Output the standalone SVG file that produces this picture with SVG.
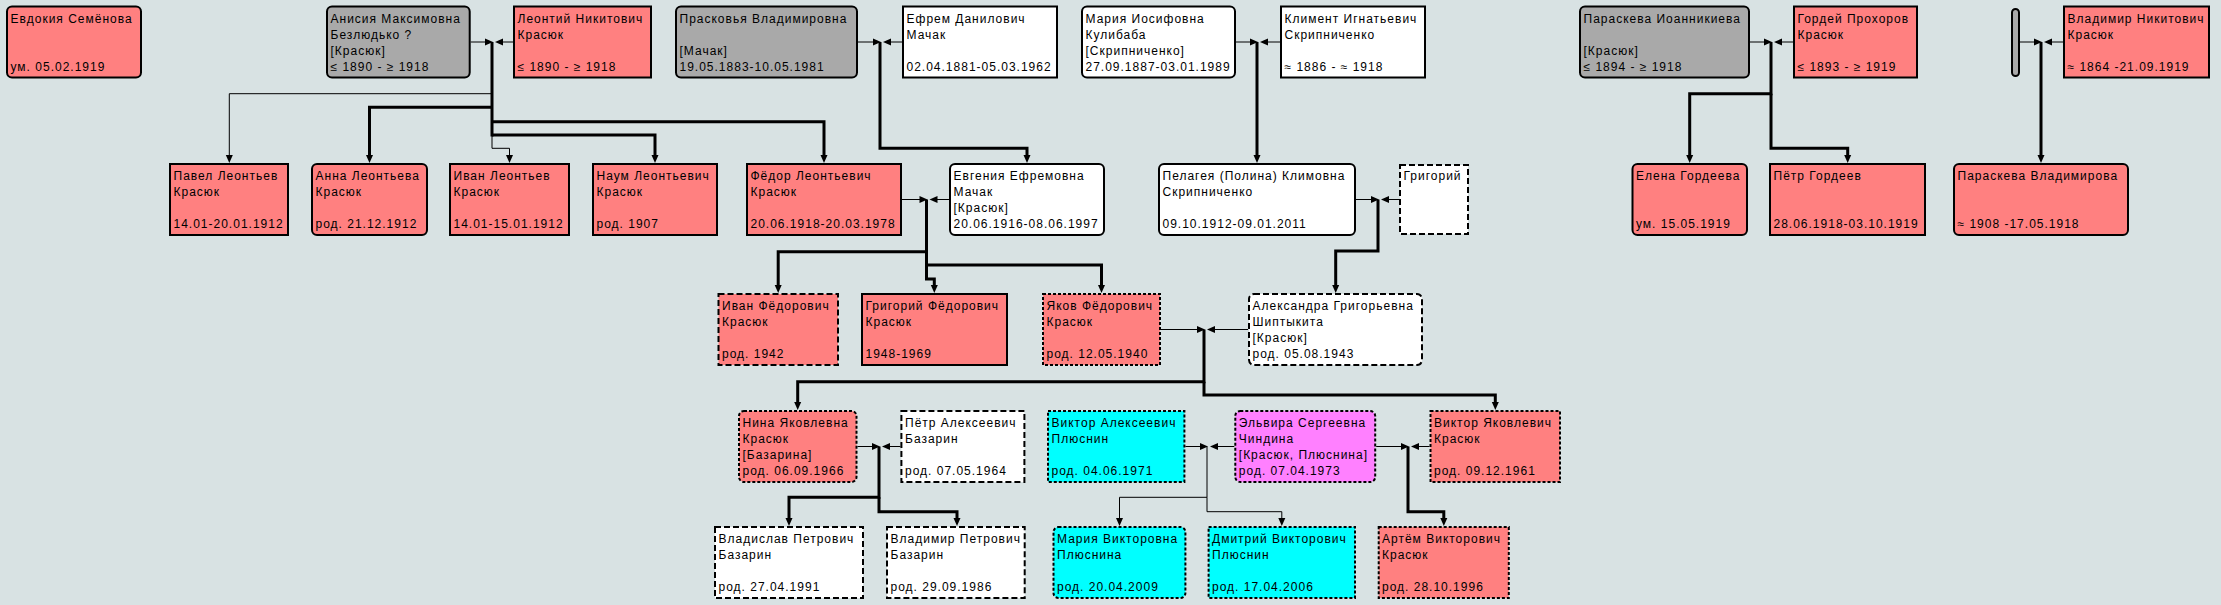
<svg xmlns="http://www.w3.org/2000/svg" width="2221" height="605" viewBox="0 0 2221 605">
<style>
.bg{fill:#D8E2E3}
.b{stroke:#000;stroke-width:2}
.pink{fill:#FF8080}.gray{fill:#A9A9A9}.white{fill:#FFFFFF}.cyan{fill:#00FFFF}.mag{fill:#FF80FF}
.dash{stroke-dasharray:6 3}.dot{stroke-dasharray:3 2}
text{font-family:"Liberation Sans",Arial,sans-serif;font-size:12px;letter-spacing:1px;fill:#000}
.thin{fill:none;stroke:#000;stroke-width:1;marker-end:url(#ah)}
.thick{fill:none;stroke:#000;stroke-width:3;marker-end:url(#ah)}
.sp{fill:none;stroke:#000;stroke-width:1;marker-end:url(#ah)}
.trunk{fill:none;stroke:#000;stroke-width:3}
.trunkt{fill:none;stroke:#000;stroke-width:1}
</style>
<defs>
<marker id="ah" markerUnits="userSpaceOnUse" markerWidth="8" markerHeight="7" refX="3" refY="3.5" orient="auto" overflow="visible">
<path d="M0,0 L8,3.5 L0,7 z" fill="#000"/>
</marker>
</defs>
<rect class="bg" x="0" y="0" width="2221" height="605"/>

<g id="connectors">
<!-- spouse lines -->
<path class="sp" d="M470.7,42 H488"/>
<path class="sp" d="M513,42 H500"/>
<path class="sp" d="M858,42 H876"/>
<path class="sp" d="M902,42 H888"/>
<path class="sp" d="M1236,42 H1253"/>
<path class="sp" d="M1280,42 H1265"/>
<path class="sp" d="M1750,42 H1767"/>
<path class="sp" d="M1793,42 H1779"/>
<path class="sp" d="M2020,42 H2037"/>
<path class="sp" d="M2063,42 H2049"/>
<path class="sp" d="M902,199.5 H922.5"/>
<path class="sp" d="M949,199.5 H934.5"/>
<path class="sp" d="M1356,199.5 H1374"/>
<path class="sp" d="M1399,199.5 H1386"/>
<path class="sp" d="M1161,329.5 H1200"/>
<path class="sp" d="M1248,329.5 H1212"/>
<path class="sp" d="M857.5,446.5 H875"/>
<path class="sp" d="M900.4,446.5 H887"/>
<path class="sp" d="M1185.4,446.5 H1203"/>
<path class="sp" d="M1234.3,446.5 H1215"/>
<path class="sp" d="M1376.2,446.5 H1404"/>
<path class="sp" d="M1429.5,446.5 H1416"/>
<!-- Anisia / Leontiy children -->
<path class="trunk" d="M492,42 V136.5"/>
<path class="thin" d="M492,93.7 H229.3 V158"/>
<path class="thick" d="M492,107.3 H369.5 V158"/>
<path class="thick" d="M492,121.7 H824 V158"/>
<path class="thick" d="M492,135 H655 V158"/>
<path class="thin" d="M492,135 V148.3 H509.5 V158"/>
<!-- Praskovya / Efrem -->
<path class="thick" d="M880,42 V148.3 H1027 V158"/>
<!-- Fyodor / Evgenia -->
<path class="thick" d="M926.5,199.5 V251.7 H778.2 V288"/>
<path class="thick" d="M926.5,251.7 V265 H1101.5 V288"/>
<path class="thick" d="M926.5,265 V279 H934.3 V288"/>
<!-- Mariya / Kliment -->
<path class="thick" d="M1257,42 V158"/>
<!-- Pelageya / Grigoriy -->
<path class="thick" d="M1378,199.5 V251 H1335.7 V288"/>
<!-- Paraskeva / Gordey -->
<path class="thick" d="M1771,42 V93.7 H1689.7 V158"/>
<path class="thick" d="M1771,93.7 V148.3 H1847.7 V158"/>
<!-- Vladimir -->
<path class="thick" d="M2041,42 V158"/>
<!-- Yakov / Alexandra -->
<path class="thick" d="M1204,329.5 V381.7 H797.7 V405"/>
<path class="thick" d="M1204,381.7 V395 H1495.3 V405"/>
<!-- Nina / Pyotr -->
<path class="thick" d="M879,446.5 V497.3 H789 V521"/>
<path class="thick" d="M879,497.3 V511.7 H957 V521"/>
<!-- Viktor A / Elvira -->
<path class="thin" d="M1207,446.5 V497.3 H1119.5 V521"/>
<path class="thin" d="M1207,497.3 V511.7 H1281.8 V521"/>
<!-- Elvira / Viktor Y -->
<path class="thick" d="M1408,446.5 V511.7 H1443.8 V521"/>
</g>

<!-- Row 1 -->
<g id="n-evdokiya"><rect class="b pink" x="7" y="6.5" width="134" height="71" rx="5"/>
<text x="10.5" y="22.5">Евдокия Семёнова</text><text x="10.5" y="70.5">ум. 05.02.1919</text></g>
<g id="n-anisiya"><rect class="b gray" x="327" y="6.5" width="142.7" height="71" rx="5"/>
<text x="330.5" y="22.5">Анисия Максимовна</text><text x="330.5" y="38.5">Безлюдько ?</text><text x="330.5" y="54.5">[Красюк]</text><text x="330.5" y="70.5">≤ 1890 - ≥ 1918</text></g>
<g id="n-leontiy"><rect class="b pink" x="514" y="6.5" width="137" height="71"/>
<text x="517.5" y="22.5">Леонтий Никитович</text><text x="517.5" y="38.5">Красюк</text><text x="517.5" y="70.5">≤ 1890 - ≥ 1918</text></g>
<g id="n-praskovya"><rect class="b gray" x="676" y="6.5" width="181" height="71" rx="5"/>
<text x="679.5" y="22.5">Прасковья Владимировна</text><text x="679.5" y="54.5">[Мачак]</text><text x="679.5" y="70.5">19.05.1883-10.05.1981</text></g>
<g id="n-efrem"><rect class="b white" x="903" y="6.5" width="154" height="71"/>
<text x="906.5" y="22.5">Ефрем Данилович</text><text x="906.5" y="38.5">Мачак</text><text x="906.5" y="70.5">02.04.1881-05.03.1962</text></g>
<g id="n-mariya"><rect class="b white" x="1082" y="6.5" width="153" height="71" rx="5"/>
<text x="1085.5" y="22.5">Мария Иосифовна</text><text x="1085.5" y="38.5">Кулибаба</text><text x="1085.5" y="54.5">[Скрипниченко]</text><text x="1085.5" y="70.5">27.09.1887-03.01.1989</text></g>
<g id="n-kliment"><rect class="b white" x="1281" y="6.5" width="144" height="71"/>
<text x="1284.5" y="22.5">Климент Игнатьевич</text><text x="1284.5" y="38.5">Скрипниченко</text><text x="1284.5" y="70.5">≈ 1886 - ≈ 1918</text></g>
<g id="n-paraskeva-i"><rect class="b gray" x="1580" y="6.5" width="169" height="71" rx="5"/>
<text x="1583.5" y="22.5">Параскева Иоанникиева</text><text x="1583.5" y="54.5">[Красюк]</text><text x="1583.5" y="70.5">≤ 1894 - ≥ 1918</text></g>
<g id="n-gordey"><rect class="b pink" x="1794" y="6.5" width="123" height="71"/>
<text x="1797.5" y="22.5">Гордей Прохоров</text><text x="1797.5" y="38.5">Красюк</text><text x="1797.5" y="70.5">≤ 1893 - ≥ 1919</text></g>
<g id="n-unknown"><rect class="b gray" x="2012" y="9" width="7" height="67" rx="3.5"/></g>
<g id="n-vladimir"><rect class="b pink" x="2064" y="6.5" width="145" height="71"/>
<text x="2067.5" y="22.5">Владимир Никитович</text><text x="2067.5" y="38.5">Красюк</text><text x="2067.5" y="70.5">≈ 1864 -21.09.1919</text></g>

<!-- Row 2 -->
<g id="n-pavel"><rect class="b pink" x="170" y="164" width="118" height="71"/>
<text x="173.5" y="180">Павел Леонтьев</text><text x="173.5" y="196">Красюк</text><text x="173.5" y="228">14.01-20.01.1912</text></g>
<g id="n-anna"><rect class="b pink" x="312" y="164" width="115" height="71" rx="5"/>
<text x="315.5" y="180">Анна Леонтьева</text><text x="315.5" y="196">Красюк</text><text x="315.5" y="228">род. 21.12.1912</text></g>
<g id="n-ivan-l"><rect class="b pink" x="450" y="164" width="119" height="71"/>
<text x="453.5" y="180">Иван Леонтьев</text><text x="453.5" y="196">Красюк</text><text x="453.5" y="228">14.01-15.01.1912</text></g>
<g id="n-naum"><rect class="b pink" x="593" y="164" width="124" height="71"/>
<text x="596.5" y="180">Наум Леонтьевич</text><text x="596.5" y="196">Красюк</text><text x="596.5" y="228">род. 1907</text></g>
<g id="n-fyodor"><rect class="b pink" x="747" y="164" width="154" height="71"/>
<text x="750.5" y="180">Фёдор Леонтьевич</text><text x="750.5" y="196">Красюк</text><text x="750.5" y="228">20.06.1918-20.03.1978</text></g>
<g id="n-evgenia"><rect class="b white" x="950" y="164" width="154" height="71" rx="5"/>
<text x="953.5" y="180">Евгения Ефремовна</text><text x="953.5" y="196">Мачак</text><text x="953.5" y="212">[Красюк]</text><text x="953.5" y="228">20.06.1916-08.06.1997</text></g>
<g id="n-pelageya"><rect class="b white" x="1159" y="164" width="196" height="71" rx="5"/>
<text x="1162.5" y="180">Пелагея (Полина) Климовна</text><text x="1162.5" y="196">Скрипниченко</text><text x="1162.5" y="228">09.10.1912-09.01.2011</text></g>
<g id="n-grigoriy"><rect class="b white dash" x="1400" y="165" width="68" height="69"/>
<text x="1403.5" y="180">Григорий</text></g>
<g id="n-elena"><rect class="b pink" x="1632.5" y="164" width="114.5" height="71" rx="5"/>
<text x="1636" y="180">Елена Гордеева</text><text x="1636" y="228">ум. 15.05.1919</text></g>
<g id="n-pyotr-g"><rect class="b pink" x="1770" y="164" width="155" height="71"/>
<text x="1773.5" y="180">Пётр Гордеев</text><text x="1773.5" y="228">28.06.1918-03.10.1919</text></g>
<g id="n-paraskeva-v"><rect class="b pink" x="1954" y="164" width="174" height="71" rx="5"/>
<text x="1957.5" y="180">Параскева Владимирова</text><text x="1957.5" y="228">≈ 1908 -17.05.1918</text></g>

<!-- Row 3 -->
<g id="n-ivan-f"><rect class="b pink dash" x="718.5" y="294" width="119.5" height="71"/>
<text x="722" y="310">Иван Фёдорович</text><text x="722" y="326">Красюк</text><text x="722" y="358">род. 1942</text></g>
<g id="n-grigoriy-f"><rect class="b pink" x="862" y="294" width="145" height="71"/>
<text x="865.5" y="310">Григорий Фёдорович</text><text x="865.5" y="326">Красюк</text><text x="865.5" y="358">1948-1969</text></g>
<g id="n-yakov"><rect class="b pink dot" x="1043" y="294" width="117" height="71"/>
<text x="1046.5" y="310">Яков Фёдорович</text><text x="1046.5" y="326">Красюк</text><text x="1046.5" y="358">род. 12.05.1940</text></g>
<g id="n-alexandra"><rect class="b white dash" x="1249" y="294" width="173" height="71" rx="5"/>
<text x="1252.5" y="310">Александра Григорьевна</text><text x="1252.5" y="326">Шиптыкита</text><text x="1252.5" y="342">[Красюк]</text><text x="1252.5" y="358">род. 05.08.1943</text></g>

<!-- Row 4 -->
<g id="n-nina"><rect class="b pink dot" x="739" y="411" width="117.5" height="71" rx="5"/>
<text x="742.5" y="427">Нина Яковлевна</text><text x="742.5" y="443">Красюк</text><text x="742.5" y="459">[Базарина]</text><text x="742.5" y="475">род. 06.09.1966</text></g>
<g id="n-pyotr-a"><rect class="b white dash" x="901.4" y="411" width="123" height="71"/>
<text x="905" y="427">Пётр Алексеевич</text><text x="905" y="443">Базарин</text><text x="905" y="475">род. 07.05.1964</text></g>
<g id="n-viktor-a"><rect class="b cyan dot" x="1048" y="411" width="136.4" height="71"/>
<text x="1051.5" y="427">Виктор Алексеевич</text><text x="1051.5" y="443">Плюснин</text><text x="1051.5" y="475">род. 04.06.1971</text></g>
<g id="n-elvira"><rect class="b mag dot" x="1235.3" y="411" width="139.9" height="71" rx="5"/>
<text x="1238.8" y="427">Эльвира Сергеевна</text><text x="1238.8" y="443">Чиндина</text><text x="1238.8" y="459">[Красюк, Плюснина]</text><text x="1238.8" y="475">род. 07.04.1973</text></g>
<g id="n-viktor-y"><rect class="b pink dot" x="1430.5" y="411" width="129.5" height="71"/>
<text x="1434" y="427">Виктор Яковлевич</text><text x="1434" y="443">Красюк</text><text x="1434" y="475">род. 09.12.1961</text></g>

<!-- Row 5 -->
<g id="n-vladislav"><rect class="b white dash" x="715" y="527" width="148" height="71"/>
<text x="718.5" y="543">Владислав Петрович</text><text x="718.5" y="559">Базарин</text><text x="718.5" y="591">род. 27.04.1991</text></g>
<g id="n-vladimir-p"><rect class="b white dash" x="887" y="527" width="137.7" height="71"/>
<text x="890.5" y="543">Владимир Петрович</text><text x="890.5" y="559">Базарин</text><text x="890.5" y="591">род. 29.09.1986</text></g>
<g id="n-mariya-v"><rect class="b cyan dot" x="1053.5" y="527" width="131.9" height="71" rx="5"/>
<text x="1057" y="543">Мария Викторовна</text><text x="1057" y="559">Плюснина</text><text x="1057" y="591">род. 20.04.2009</text></g>
<g id="n-dmitriy"><rect class="b cyan dot" x="1208.6" y="527" width="146.4" height="71"/>
<text x="1212" y="543">Дмитрий Викторович</text><text x="1212" y="559">Плюснин</text><text x="1212" y="591">род. 17.04.2006</text></g>
<g id="n-artyom"><rect class="b pink dot" x="1378.7" y="527" width="130.1" height="71"/>
<text x="1382" y="543">Артём Викторович</text><text x="1382" y="559">Красюк</text><text x="1382" y="591">род. 28.10.1996</text></g>
</svg>
